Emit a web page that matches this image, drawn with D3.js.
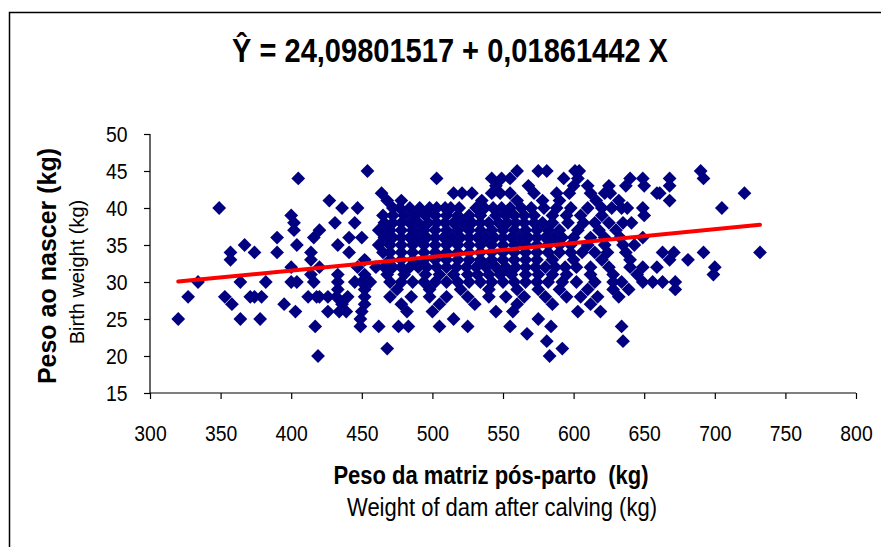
<!DOCTYPE html>
<html lang="pt">
<head>
<meta charset="UTF-8">
<title>Peso ao nascer x Peso da matriz</title>
<script src="https://d3js.org/d3.v7.min.js"></script>
<style>
    body { margin: 0; background: #fff; font-family: "Liberation Sans", Arial, sans-serif; }
    svg text { fill: #000; }
</style>
</head>
<body>
<svg id="chart" width="881" height="547"></svg>
<script>
// Birth weight levels (kg) and the dam weights (kg) for each level
const birthWeightLevels = [45, 44, 43, 42, 41, 40, 39, 38, 37, 36, 35, 34, 33, 32, 31, 30, 29, 28, 27, 26, 25, 24, 23, 22, 21, 20];
const damWeightsByLevel = [
    [454, 560, 575, 581, 601, 604, 690],
    [405, 503, 542, 549, 555, 593, 603, 640, 649, 668, 692],
    [545, 568, 600, 610, 625, 637, 650, 668],
    [464, 515, 521, 528, 542, 548, 555, 572, 588, 597, 612, 622, 626, 659, 661, 721],
    [427, 468, 478, 535, 560, 578, 590, 616, 632, 668],
    [349, 436, 447, 472, 477, 484, 491, 498, 503, 509, 513, 519, 531, 537, 543, 549, 555, 563, 570, 579, 588, 598, 610, 620, 627, 634, 638, 649, 705],
    [400, 465, 472, 480, 488, 495, 502, 510, 518, 526, 534, 545, 552, 558, 565, 572, 585, 595, 605, 620, 650],
    [402, 431, 445, 466, 472, 478, 484, 490, 497, 503, 509, 515, 522, 528, 534, 540, 547, 553, 559, 565, 572, 578, 585, 596, 607, 615, 625, 635, 641],
    [402, 420, 462, 470, 478, 486, 494, 502, 510, 518, 526, 534, 542, 550, 558, 566, 574, 582, 590, 603, 618, 630],
    [390, 416, 441, 450, 466, 472, 478, 484, 490, 496, 502, 508, 514, 520, 526, 532, 538, 544, 550, 556, 562, 568, 574, 580, 586, 592, 600, 612, 622, 633, 649],
    [367, 404, 433, 462, 470, 478, 486, 494, 502, 510, 518, 526, 534, 542, 550, 558, 566, 574, 582, 590, 598, 610, 622, 635, 643],
    [357, 374, 390, 414, 441, 465, 470, 478, 486, 494, 502, 510, 518, 526, 534, 542, 550, 558, 566, 574, 582, 590, 598, 606, 615, 624, 637, 663, 671, 692, 732],
    [357, 414, 452, 470, 478, 486, 494, 502, 510, 518, 526, 534, 542, 550, 558, 566, 574, 585, 600, 620, 640, 668, 681],
    [400, 420, 447, 460, 466, 472, 478, 484, 490, 496, 503, 510, 517, 524, 531, 538, 545, 552, 559, 566, 573, 580, 587, 594, 602, 612, 625, 640, 649, 659, 700],
    [414, 433, 452, 468, 480, 495, 505, 515, 525, 532, 540, 548, 556, 566, 575, 585, 595, 612, 628, 645, 699],
    [334, 364, 382, 400, 404, 416, 433, 445, 450, 456, 470, 478, 486, 494, 502, 510, 518, 526, 534, 542, 550, 558, 566, 574, 582, 592, 602, 615, 628, 634, 649, 656, 663, 672],
    [433, 452, 475, 498, 520, 540, 560, 575, 590, 610, 628, 639, 672],
    [327, 353, 371, 374, 379, 412, 418, 420, 426, 432, 440, 452, 470, 485, 498, 510, 525, 540, 552, 565, 580, 595, 605, 617, 632],
    [358, 395, 436, 452, 478, 505, 530, 560, 585, 612],
    [403, 426, 434, 439, 450, 482, 500, 545, 557, 603, 619],
    [320, 364, 378, 449, 515, 575],
    [417, 449, 462, 476, 483, 505, 525, 555, 584, 634],
    [567],
    [581, 635],
    [468, 592],
    [419, 583]
];

const xTicks = [300, 350, 400, 450, 500, 550, 600, 650, 700, 750, 800];
const yTicks = [15, 20, 25, 30, 35, 40, 45, 50];

// regression: Ŷ = a + b X
const intercept = 24.09801517;
const slope = 0.01861442;
const fitRange = [320, 732];

const points = [];
birthWeightLevels.forEach((bw, i) => {
    damWeightsByLevel[i].forEach(dw => points.push({ dam: dw, birth: bw }));
});

const svg = d3.select("#chart");
const squeeze = 0.88; // the source picture is a little narrow horizontally

// outer frame
svg.append("rect")
    .attr("x", 9.5).attr("y", 12.5)
    .attr("width", 1000).attr("height", 1000)
    .attr("fill", "none")
    .attr("stroke", "#000")
    .attr("stroke-width", 1.5);

const plot = { left: 150, right: 856, top: 134, bottom: 393 };

const x = d3.scaleLinear().domain([300, 800]).range([plot.left, plot.right]);
const y = d3.scaleLinear().domain([15, 50]).range([plot.bottom, plot.top]);

// horizontal text, narrowed like the source
function label(cx, cy, size, bold, str) {
    svg.append("text")
        .attr("transform", `translate(${cx},${cy}) scale(${squeeze},1)`)
        .attr("text-anchor", "middle")
        .attr("xml:space", "preserve")
        .style("font-size", size + "px")
        .style("font-weight", bold ? "bold" : "normal")
        .text(str);
}

// title
label(450, 62, 33, true, "Ŷ = 24,09801517 + 0,01861442 X");

// axes
const yAxis = svg.append("g")
    .attr("transform", `translate(${plot.left},0)`)
    .call(d3.axisLeft(y).tickValues(yTicks).tickSize(6).tickPadding(7));
const xAxis = svg.append("g")
    .attr("transform", `translate(0,${plot.bottom})`)
    .call(d3.axisBottom(x).tickValues(xTicks).tickSize(6).tickPadding(26));

[xAxis, yAxis].forEach(g => {
    g.select(".domain").attr("stroke", "#000").attr("stroke-width", 1.2);
    g.selectAll(".tick line").attr("stroke", "#000").attr("stroke-width", 1.2);
    g.selectAll(".tick text")
        .style("font-family", "'Liberation Sans', Arial, sans-serif")
        .style("font-size", "22px")
        .attr("fill", "#000");
});
// squeeze tick labels around their anchor
xAxis.selectAll(".tick text").attr("transform", `scale(${squeeze},1)`);
yAxis.selectAll(".tick text").attr("transform", `translate(-11,0) scale(${squeeze},1)`);
// Excel-style domain without end ticks
yAxis.select(".domain").attr("d", `M0,${plot.top}V${plot.bottom}`);
xAxis.select(".domain").attr("d", `M${plot.left},0H${plot.right}`);

// points
svg.append("g")
    .selectAll("path")
    .data(points)
    .join("path")
    .attr("transform", d => `translate(${x(d.dam)},${y(d.birth)}) rotate(45)`)
    .attr("d", d3.symbol().type(d3.symbolSquare).size(95))
    .attr("fill", "#000080");

// fitted line
svg.append("line")
    .attr("x1", x(fitRange[0])).attr("y1", y(intercept + slope * fitRange[0]))
    .attr("x2", x(fitRange[1])).attr("y2", y(intercept + slope * fitRange[1]))
    .attr("stroke", "#ff0000")
    .attr("stroke-width", 4)
    .attr("stroke-linecap", "round");

// axis titles
svg.append("text")
    .attr("transform", "translate(56,266) rotate(-90)")
    .attr("text-anchor", "middle")
    .style("font-size", "25px")
    .style("font-weight", "bold")
    .text("Peso ao nascer (kg)");
svg.append("text")
    .attr("transform", "translate(84,272) rotate(-90)")
    .attr("text-anchor", "middle")
    .style("font-size", "20px")
    .text("Birth weight (kg)");

label(491, 484, 25, true, "Peso da matriz pós-parto  (kg)");
label(502, 516, 25, false, "Weight of dam after calving (kg)");
</script>
</body>
</html>
